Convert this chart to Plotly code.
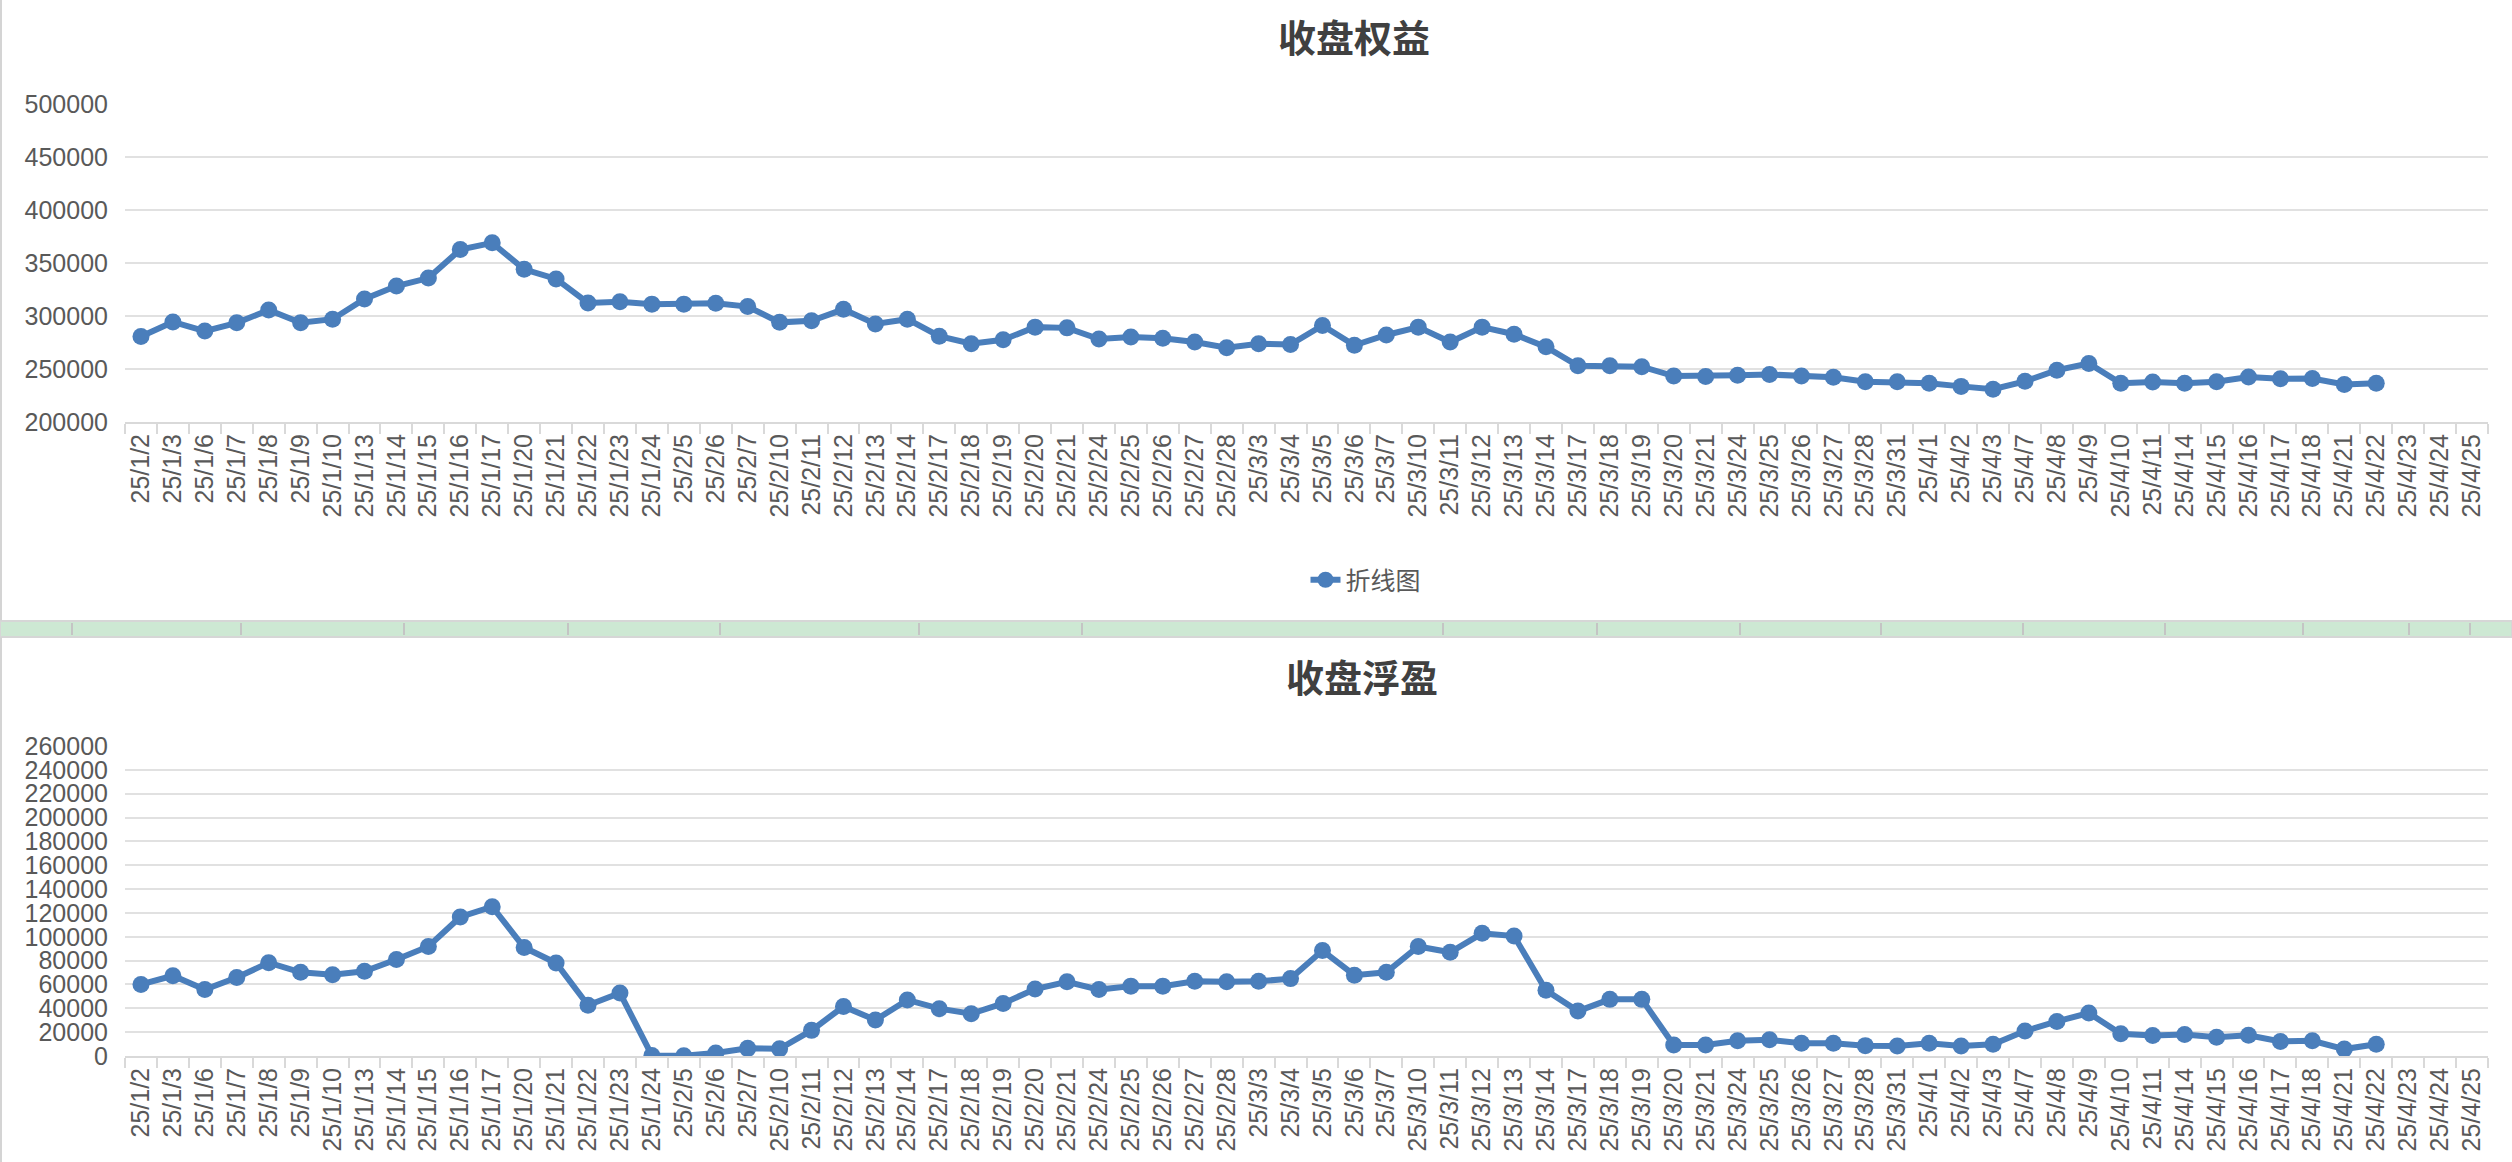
import plotly.graph_objects as go

W, H = 2512, 1162

dates = [
    "25/1/2", "25/1/3", "25/1/6", "25/1/7", "25/1/8", "25/1/9", "25/1/10",
    "25/1/13", "25/1/14", "25/1/15", "25/1/16", "25/1/17", "25/1/20",
    "25/1/21", "25/1/22", "25/1/23", "25/1/24",
    "25/2/5", "25/2/6", "25/2/7", "25/2/10", "25/2/11", "25/2/12", "25/2/13",
    "25/2/14", "25/2/17", "25/2/18", "25/2/19", "25/2/20", "25/2/21",
    "25/2/24", "25/2/25", "25/2/26", "25/2/27", "25/2/28",
    "25/3/3", "25/3/4", "25/3/5", "25/3/6", "25/3/7", "25/3/10", "25/3/11",
    "25/3/12", "25/3/13", "25/3/14", "25/3/17", "25/3/18", "25/3/19",
    "25/3/20", "25/3/21", "25/3/24", "25/3/25", "25/3/26", "25/3/27",
    "25/3/28", "25/3/31",
    "25/4/1", "25/4/2", "25/4/3", "25/4/7", "25/4/8", "25/4/9", "25/4/10",
    "25/4/11", "25/4/14", "25/4/15", "25/4/16", "25/4/17", "25/4/18",
    "25/4/21", "25/4/22", "25/4/23", "25/4/24", "25/4/25",
]

# 收盘权益 (last three days have no data yet)
equity = [
    280600, 294400, 285800, 293600, 305600, 293600, 297000,
    316000, 328300, 335800, 362700, 369000, 344000,
    335000, 312300, 313400, 311200,
    311200, 312000, 308900, 294000, 295500, 306300, 292500,
    297000, 281000, 273900, 277600, 289500, 288800,
    278300, 280200, 279100, 275400, 270100,
    273900, 273100, 291000, 272400, 282100, 289500, 275400,
    289500, 282800, 270900, 253000, 253000, 252200,
    243300, 243000, 244000, 244800, 243300, 242200,
    238000, 238000,
    236600, 233600, 231000, 238400, 248900, 255200, 236600,
    237700, 236600, 238000, 242500, 240700, 241000,
    235400, 236600, None, None, None,
]

# 收盘浮盈
float_profit = [
    60000, 67300, 55700, 65800, 78300, 70200, 68100,
    71000, 80900, 91900, 116600, 125200, 91000,
    78000, 42600, 52800, 500,
    300, 2600, 6400, 6100, 21500, 41500, 30200,
    47000, 39700, 35400, 44100, 56200, 62300,
    55700, 58600, 58600, 62600, 62300,
    62600, 64900, 88400, 67800, 70200, 91900, 87000,
    102900, 100600, 55100, 37700, 47500, 47500,
    9300, 9300, 12800, 13600, 10700, 10700,
    8700, 8400,
    10700, 8400, 9900, 20900, 29000, 36000, 18600,
    17100, 18000, 15700, 17400, 12200, 12800,
    5800, 9900, None, None, None,
]

BLUE = "#4a7ebb"
GRID = "#e1e1e1"
TXT = "#595959"
TICK_FONT = dict(family="Liberation Sans, Arial, sans-serif", size=25, color=TXT)
CJK = "Noto Sans CJK SC, sans-serif"

fig = go.Figure()

fig.add_trace(go.Scatter(
    x=dates, y=equity, name="折线图", mode="lines+markers",
    line=dict(color=BLUE, width=6), marker=dict(size=17, color=BLUE),
    xaxis="x", yaxis="y", showlegend=True,
))
fig.add_trace(go.Scatter(
    x=dates, y=float_profit, name="折线图", mode="lines+markers",
    line=dict(color=BLUE, width=6), marker=dict(size=17, color=BLUE),
    xaxis="x2", yaxis="y2", showlegend=False,
))

xdom = [125 / W, 2488 / W]
xcommon = dict(
    type="category", categoryorder="array", categoryarray=dates,
    tickmode="array", tickvals=dates, ticktext=dates,
    range=[-0.5, len(dates) - 0.5], tickangle=-90,
    showgrid=False, showline=True, linecolor="#d9d9d9", linewidth=2,
    ticks="outside", tickson="boundaries", ticklen=10, tickcolor="#d9d9d9",
    tickwidth=2, tickfont=TICK_FONT, zeroline=False, domain=xdom,
    automargin=False, fixedrange=True,
)
ycommon = dict(
    showgrid=True, gridcolor=GRID, gridwidth=2, zeroline=False,
    showline=False, ticks="", tickfont=TICK_FONT, ticklabelstandoff=16,
    tickformat="d", automargin=False, fixedrange=True,
)

fig.update_layout(
    width=W, height=H, autosize=False,
    margin=dict(l=0, r=0, t=0, b=0, pad=0),
    paper_bgcolor="white", plot_bgcolor="white",
    xaxis=dict(**xcommon, anchor="y"),
    yaxis=dict(**ycommon, range=[200000, 500000], dtick=50000,
               domain=[1 - 422 / H, 1 - 104 / H], anchor="x"),
    xaxis2=dict(**xcommon, anchor="y2"),
    yaxis2=dict(**ycommon, range=[0, 260000], dtick=20000,
                domain=[1 - 1056 / H, 1 - 746 / H], anchor="x2"),
    legend=dict(orientation="h", x=1366 / W, xanchor="center",
                y=1 - 580 / H, yanchor="middle",
                font=dict(family=CJK, size=25, color=TXT),
                bgcolor="rgba(0,0,0,0)"),
    showlegend=True,
)

# chart titles
fig.add_annotation(text="<b>收盘权益</b>", x=1354 / W, y=1 - 35 / H,
                   xref="paper", yref="paper", showarrow=False,
                   xanchor="center", yanchor="middle",
                   font=dict(family=CJK, size=38, color="#404040"))
fig.add_annotation(text="<b>收盘浮盈</b>", x=1362 / W, y=1 - 675 / H,
                   xref="paper", yref="paper", showarrow=False,
                   xanchor="center", yanchor="middle",
                   font=dict(family=CJK, size=38, color="#404040"))

# spreadsheet row strip between the two charts
fig.add_shape(type="rect", xref="paper", yref="paper",
              x0=0, x1=1, y0=1 - 637 / H, y1=1 - 621 / H,
              fillcolor="#cde8d3", line=dict(color="#d6d6d6", width=2),
              layer="below")
for sx in [72, 241, 404, 568, 720, 919, 1082, 1443, 1597, 1740, 1881,
           2023, 2165, 2303, 2409, 2470]:
    fig.add_shape(type="line", xref="paper", yref="paper",
                  x0=sx / W, x1=sx / W, y0=1 - 635 / H, y1=1 - 623 / H,
                  line=dict(color="#c4c4c4", width=2))

# chart box left borders
fig.add_shape(type="line", xref="paper", yref="paper",
              x0=1 / W, x1=1 / W, y0=1 - 621 / H, y1=1,
              line=dict(color="#d4d4d4", width=2))
fig.add_shape(type="line", xref="paper", yref="paper",
              x0=1 / W, x1=1 / W, y0=0, y1=1 - 637 / H,
              line=dict(color="#d4d4d4", width=2))

fig.write_html("out.html", config={"displayModeBar": False},
               post_script="document.body.style.margin='0';")
